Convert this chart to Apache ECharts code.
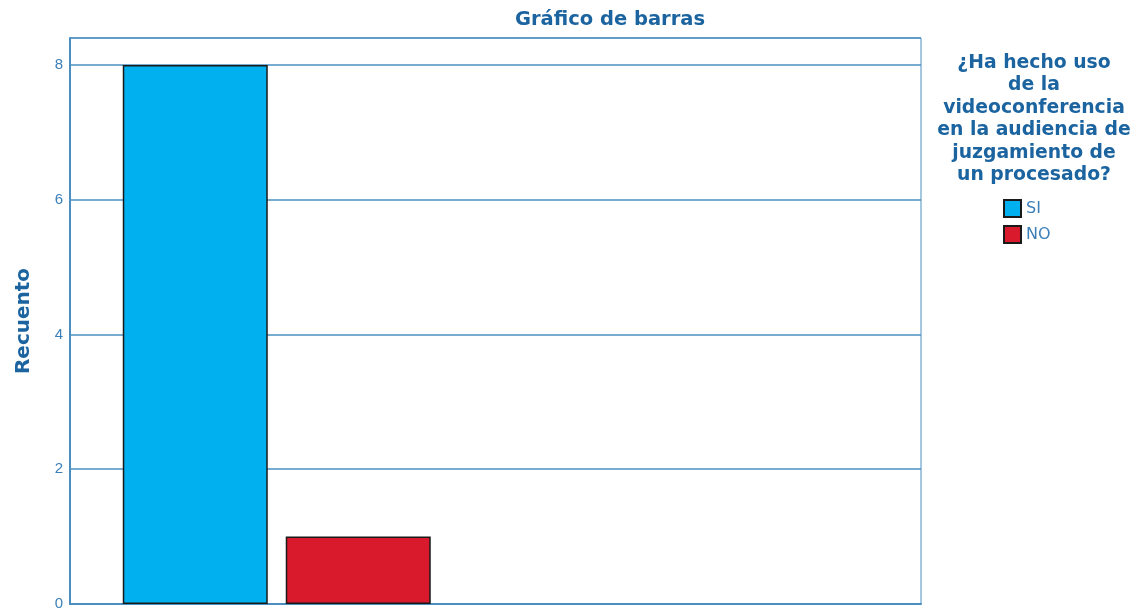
<!DOCTYPE html>
<html>
<head>
<meta charset="utf-8">
<style>
  html, body { margin: 0; padding: 0; background: #fff; }
  #chart { width: 1133px; height: 612px; }
</style>
<script src="https://cdn.jsdelivr.net/npm/echarts@6/dist/echarts.min.js"></script>
</head>
<body>
<div id="chart"></div>
<script>
  // categories: the second slot is empty so the bar group sits on the left like in the original
  const categories = ['', ' ']
  const seriesNames = ['SI', 'NO']
  const siValues = [8, null]
  const noValues = [1, null]
  const yTicks = [0, 2, 4, 6, 8]

  const lineColor = '#4b8fc1'
  const textColor = '#1b64a0'
  const tickColor = '#3b7fb8'
  const font = 'DejaVu Sans, Verdana, sans-serif'
  const tickFont = 'Liberation Sans, Arial, sans-serif'

  const chart = echarts.init(document.getElementById('chart'))

  const legendTitle = [
    '¿Ha hecho uso',
    'de la',
    'videoconferencia',
    'en la audiencia de',
    'juzgamiento de',
    'un procesado?'
  ].join('\n')

  chart.setOption({
    animation: false,
    textStyle: { fontFamily: font },
    title: [
      {
        text: 'Gráfico de barras',
        left: 510,
        top: 5,
        textStyle: { color: textColor, fontSize: 19.5, fontWeight: 'bold', fontFamily: font }
      },
      {
        text: legendTitle,
        left: 1029,
        top: 47,
        textAlign: 'center',
        textStyle: {
          color: textColor, fontSize: 18.8, fontWeight: 'bold', fontFamily: font, lineHeight: 22.4
        }
      }
    ],
    legend: {
      data: seriesNames,
      orient: 'vertical',
      left: 998,
      top: 194,
      itemWidth: 17,
      itemHeight: 17,
      itemGap: 7,
      icon: 'rect',
      textStyle: { color: tickColor, fontSize: 16, fontFamily: font },
      selectedMode: false
    },
    grid: [
      // visible frame with the value axis
      {
        left: 70,
        right: 212,
        top: 38,
        bottom: 8,
        show: true,
        borderColor: lineColor,
        borderWidth: 1
      },
      // grid carrying the bars, nudged so the group sits where SPSS drew it
      { left: 64, right: 218, top: 38, bottom: 8 }
    ],
    xAxis: [
      {
        type: 'category',
        gridIndex: 0,
        data: categories,
        axisLine: { show: true, lineStyle: { color: lineColor, width: 2 } },
        axisTick: { show: false },
        axisLabel: { show: false }
      },
      {
        type: 'category',
        gridIndex: 1,
        data: categories,
        axisLine: { show: false },
        axisTick: { show: false },
        axisLabel: { show: false }
      }
    ],
    yAxis: [
      {
        type: 'value',
        gridIndex: 0,
        min: 0,
        max: 8.4,
        interval: 2,
        name: 'Recuento',
        nameLocation: 'middle',
        nameGap: 36,
        nameTextStyle: { color: textColor, fontSize: 20, fontWeight: 'bold', fontFamily: font },
        axisLine: { show: true, lineStyle: { color: lineColor, width: 2 } },
        axisTick: { show: false },
        axisLabel: {
          color: tickColor,
          fontSize: 15,
          fontFamily: tickFont,
          margin: 7,
          formatter: v => (yTicks.includes(v) ? String(v) : '')
        },
        splitLine: { lineStyle: { color: lineColor, width: 1.5 } }
      },
      {
        type: 'value',
        gridIndex: 1,
        min: 0,
        max: 8.4,
        interval: 2,
        show: false,
        splitLine: { show: false }
      }
    ],
    series: [
      {
        name: seriesNames[0],
        type: 'bar',
        xAxisIndex: 1,
        yAxisIndex: 1,
        data: siValues,
        barWidth: 145,
        barGap: '12.4%',
        itemStyle: { color: '#00b0ef', borderColor: '#1a1a1a', borderWidth: 1.5 }
      },
      {
        name: seriesNames[1],
        type: 'bar',
        xAxisIndex: 1,
        yAxisIndex: 1,
        data: noValues,
        barWidth: 145,
        itemStyle: { color: '#d9192c', borderColor: '#1a1a1a', borderWidth: 1.5 }
      }
    ]
  })
</script>
</body>
</html>
